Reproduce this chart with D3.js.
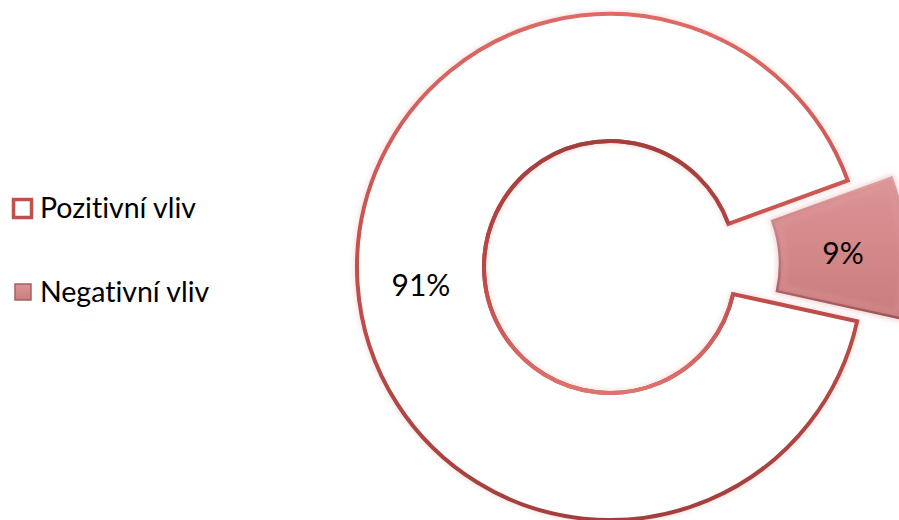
<!DOCTYPE html>
<html>
<head>
<meta charset="utf-8">
<script src="https://cdn.jsdelivr.net/npm/d3@7"></script>
<style>
  body { margin: 0; background: #fff; }
  svg { display: block; }
  text { font-variant-ligatures: none; font-feature-settings: "liga" 0, "clig" 0; }
</style>
</head>
<body>
<svg id="chart" width="899" height="520"></svg>
<script>
// data
const categories = ["Pozitivní vliv", "Negativní vliv"];
const values = [91, 9];
const labels = ["91%", "9%"];

const width = 899, height = 520;
const cx = 610, cy = 267;
const outerR = 253, innerR = 126;
const explode = 44;
const firstAngle = 102.4 * Math.PI / 180;

const svg = d3.select("#chart");
const defs = svg.append("defs");

// gradients for the bevel look
function vgrad(id, stops) {
    let g = defs.append("linearGradient")
        .attr("id", id)
        .attr("x1", 0).attr("y1", 0).attr("x2", 0).attr("y2", 1);
    stops.forEach(s => g.append("stop").attr("offset", s[0]).attr("stop-color", s[1]));
}
vgrad("rimOuter", [[0, "#de6a66"], [0.5, "#c44f4c"], [1, "#a23f3e"]]);
vgrad("rimInner", [[0, "#a23e3c"], [0.5, "#b84846"], [1, "#e2726e"]]);
vgrad("negFill", [[0, "#dc9496"], [0.5, "#d4888a"], [1, "#c87c7e"]]);
vgrad("negEdge", [[0, "#e0a0a0"], [1, "#9c5456"]]);

let soft = defs.append("filter").attr("id", "soft")
    .attr("x", "-10%").attr("y", "-10%").attr("width", "120%").attr("height", "120%");
soft.append("feGaussianBlur").attr("stdDeviation", 2.5);

const pie = d3.pie()
    .sort(null)
    .value(d => d)
    .startAngle(firstAngle)
    .endAngle(firstAngle + 2 * Math.PI);

const arcs = pie(values);

const arc = d3.arc()
    .innerRadius(innerR)
    .outerRadius(outerR);

function offsetOf(d, i) {
    if (i === 0) return [0, 0];
    let a = (d.startAngle + d.endAngle) / 2;
    return [explode * Math.sin(a), -explode * Math.cos(a)];
}

const g = svg.append("g").attr("transform", "translate(" + cx + "," + cy + ")");

const slices = g.selectAll("g.slice")
    .data(arcs)
    .join("g")
    .attr("class", "slice")
    .attr("transform", (d, i) => {
        let o = offsetOf(d, i);
        return "translate(" + o[0] + "," + o[1] + ")";
    });

// faint shadow
slices.append("path")
    .attr("d", arc)
    .attr("fill", "none")
    .attr("stroke", (d, i) => i === 0 ? "#f2c8c6" : "#e8b8b8")
    .attr("stroke-width", 6)
    .attr("opacity", 0.6)
    .attr("filter", "url(#soft)");

// slice body
slices.append("path")
    .attr("class", "body")
    .attr("d", arc)
    .attr("fill", (d, i) => i === 0 ? "#ffffff" : "url(#negFill)")
    .attr("stroke", (d, i) => i === 0 ? "url(#rimOuter)" : "url(#negEdge)")
    .attr("stroke-width", (d, i) => i === 0 ? 4 : 2.5)
    .attr("stroke-linejoin", "miter");

// inner (hole) edge of the big slice has opposite shading
let hole = d3.path();
hole.arc(0, 0, innerR, arcs[0].startAngle - Math.PI / 2, arcs[0].endAngle - Math.PI / 2);
g.append("path")
    .attr("d", hole.toString())
    .attr("fill", "none")
    .attr("stroke", "url(#rimInner)")
    .attr("stroke-width", 4);

// slight inner bevel on the exploded slice
const bevel = d3.arc()
    .innerRadius(innerR + 5)
    .outerRadius(outerR - 5)
    .padAngle(0.04);
slices.filter((d, i) => i === 1)
    .append("path")
    .attr("d", bevel)
    .attr("fill", "none")
    .attr("stroke", "#e6a2a3")
    .attr("stroke-width", 2)
    .attr("opacity", 0.6)
    .attr("filter", "url(#soft)");

// labels
slices.append("text")
    .attr("transform", d => "translate(" + arc.centroid(d) + ")")
    .attr("dy", (d, i) => i === 0 ? "0.55em" : "0.42em")
    .attr("text-anchor", "middle")
    .attr("font-family", "Lato, 'Open Sans', sans-serif")
    .attr("font-size", 30)
    .attr("fill", "#000")
    .text((d, i) => labels[i]);

// legend
const legend = svg.append("g").attr("transform", "translate(12,198)");
const legendItems = legend.selectAll("g")
    .data(categories)
    .join("g")
    .attr("transform", (d, i) => "translate(0," + i * 84 + ")");

legendItems.append("rect")
    .attr("x", (d, i) => i === 0 ? 1.5 : 3)
    .attr("y", (d, i) => i === 0 ? 1.5 : 2)
    .attr("width", (d, i) => i === 0 ? 18 : 16)
    .attr("height", (d, i) => i === 0 ? 18 : 16)
    .attr("fill", (d, i) => i === 0 ? "#ffffff" : "url(#negFill)")
    .attr("stroke", (d, i) => i === 0 ? "#c0504d" : "#a86062")
    .attr("stroke-width", (d, i) => i === 0 ? 3.5 : 1.5);

legendItems.append("text")
    .attr("x", 28)
    .attr("y", 20)
    .attr("font-family", "Lato, 'Open Sans', sans-serif")
    .attr("font-size", 28.5)
    .attr("fill", "#000")
    .text(d => d);
</script>
</body>
</html>
